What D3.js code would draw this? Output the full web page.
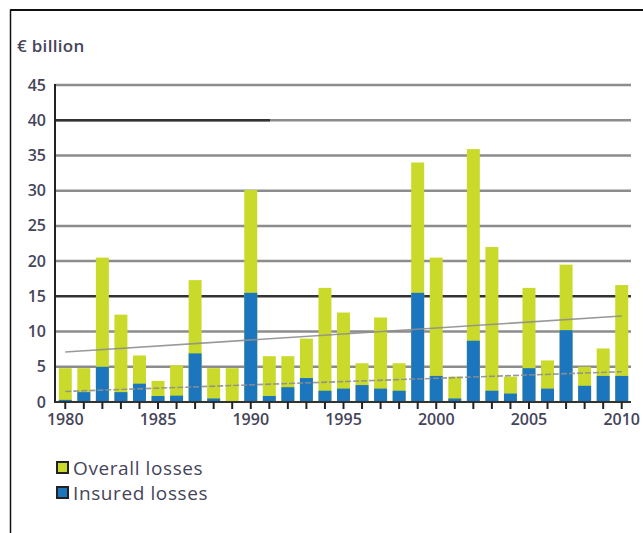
<!DOCTYPE html>
<html>
<head>
<meta charset="utf-8">
<script src="https://cdn.jsdelivr.net/npm/d3@7.9.0/dist/d3.min.js"></script>
<style>
  body { margin: 0; background: #fff; }
  svg { display: block; font-family: "Open Sans", "Noto Sans", sans-serif; }
</style>
</head>
<body>
<svg width="643" height="533"></svg>
<script>
const years = d3.range(1980, 2011);
const overallLosses = [4.8, 4.8, 20.5, 12.4, 6.6, 3.0, 5.2, 17.3, 4.8, 4.8,
  30.1, 6.5, 6.5, 9.0, 16.2, 12.7, 5.5, 12.0, 5.5, 34.0,
  20.5, 3.6, 35.9, 22.0, 3.6, 16.2, 5.9, 19.5, 5.0, 7.6, 16.6];
const insuredLosses = [0.3, 1.4, 5.0, 1.4, 2.6, 0.85, 0.9, 6.9, 0.5, 0,
  15.5, 0.85, 2.1, 3.4, 1.6, 1.9, 2.4, 1.9, 1.6, 15.5,
  3.7, 0.5, 8.7, 1.6, 1.2, 4.8, 1.9, 10.2, 2.3, 3.7, 3.7];
// trend lines: [value at 1980, value at 2010]
const overallTrend = [7.1, 12.2];
const insuredTrend = [1.5, 4.3];
const yTicks = [0, 5, 10, 15, 20, 25, 30, 35, 40, 45];
const xLabels = [1980, 1985, 1990, 1995, 2000, 2005, 2010];

const green = '#c9da2b';
const blue = '#1c76bd';
const textColor = '#45455a';

const svg = d3.select('svg');

// outer frame (top and left edges)
svg.append('line').attr('x1', 10).attr('x2', 643).attr('y1', 10).attr('y2', 10)
  .attr('stroke', '#111').attr('stroke-width', 2);
svg.append('line').attr('x1', 10.5).attr('x2', 10.5).attr('y1', 10).attr('y2', 533)
  .attr('stroke', '#111').attr('stroke-width', 1.5);

let x = d3.scaleBand().domain(years).range([56, 631]).paddingInner(0.3).paddingOuter(0.15);
let y = d3.scaleLinear().domain([0, 45]).range([402, 85]);

// title
svg.append('text').attr('x', 17).attr('y', 52)
  .attr('font-size', 17).attr('font-weight', 600).attr('letter-spacing', 0.3)
  .attr('fill', textColor).text('€ billion');

// gridlines
svg.append('g').selectAll('line').data(yTicks.slice(1)).join('line')
  .attr('x1', 55).attr('x2', 631)
  .attr('y1', d => y(d)).attr('y2', d => y(d))
  .attr('stroke', d => d === 15 ? '#333' : '#8c8c8c')
  .attr('stroke-width', 2.5);
// darker segment on the 40 line
svg.append('line').attr('x1', 55).attr('x2', 270).attr('y1', y(40)).attr('y2', y(40))
  .attr('stroke', '#333').attr('stroke-width', 2.5);

// y axis labels
svg.append('g').selectAll('text').data(yTicks).join('text')
  .attr('x', 46).attr('y', d => y(d) + 5.5)
  .attr('text-anchor', 'end').attr('font-size', 16).attr('font-weight', 600)
  .attr('fill', textColor).text(d => d);

// bars
let bars = svg.append('g');
bars.selectAll('rect.overall').data(years).join('rect')
  .attr('class', 'overall')
  .attr('x', d => x(d)).attr('width', x.bandwidth())
  .attr('y', (d, i) => y(overallLosses[i]))
  .attr('height', (d, i) => y(0) - y(overallLosses[i]))
  .attr('fill', green);
bars.selectAll('rect.insured').data(years).join('rect')
  .attr('class', 'insured')
  .attr('x', d => x(d)).attr('width', x.bandwidth())
  .attr('y', (d, i) => y(insuredLosses[i]))
  .attr('height', (d, i) => y(0) - y(insuredLosses[i]))
  .attr('fill', blue);

// trend lines
const xc = d => x(d) + x.bandwidth() / 2;
[overallTrend, insuredTrend].forEach((t, k) => {
  svg.append('line')
    .attr('x1', xc(1980)).attr('x2', xc(2010))
    .attr('y1', y(t[0])).attr('y2', y(t[1]))
    .attr('stroke', '#8e8e8e').attr('stroke-width', 1.6)
    .attr('stroke-opacity', 0.9)
    .attr('stroke-dasharray', k === 1 ? '6,2' : null);
});

// axes lines
svg.append('line').attr('x1', 55).attr('x2', 55).attr('y1', 84).attr('y2', 403)
  .attr('stroke', '#222').attr('stroke-width', 2);
svg.append('line').attr('x1', 55).attr('x2', 631).attr('y1', 402).attr('y2', 402)
  .attr('stroke', '#333').attr('stroke-width', 2);

// x ticks
svg.append('g').selectAll('line').data(years).join('line')
  .attr('x1', d => xc(d)).attr('x2', d => xc(d))
  .attr('y1', 402).attr('y2', 409)
  .attr('stroke', '#222').attr('stroke-width', 2);
svg.append('g').selectAll('text').data(xLabels).join('text')
  .attr('x', d => xc(d)).attr('y', 425)
  .attr('text-anchor', 'middle').attr('font-size', 16).attr('font-weight', 600)
  .attr('fill', textColor).text(d => d);

// legend
const legendItems = [['Overall losses', green], ['Insured losses', blue]];
let legend = svg.append('g');
legendItems.forEach(([label, color], i) => {
  legend.append('rect').attr('x', 57).attr('y', 462 + i * 25)
    .attr('width', 11).attr('height', 11)
    .attr('fill', color).attr('stroke', '#222').attr('stroke-width', 2);
  legend.append('text').attr('x', 73).attr('y', 475 + i * 25)
    .attr('font-size', 19).attr('letter-spacing', 0.6)
    .attr('fill', textColor).text(label);
});
</script>
</body>
</html>
